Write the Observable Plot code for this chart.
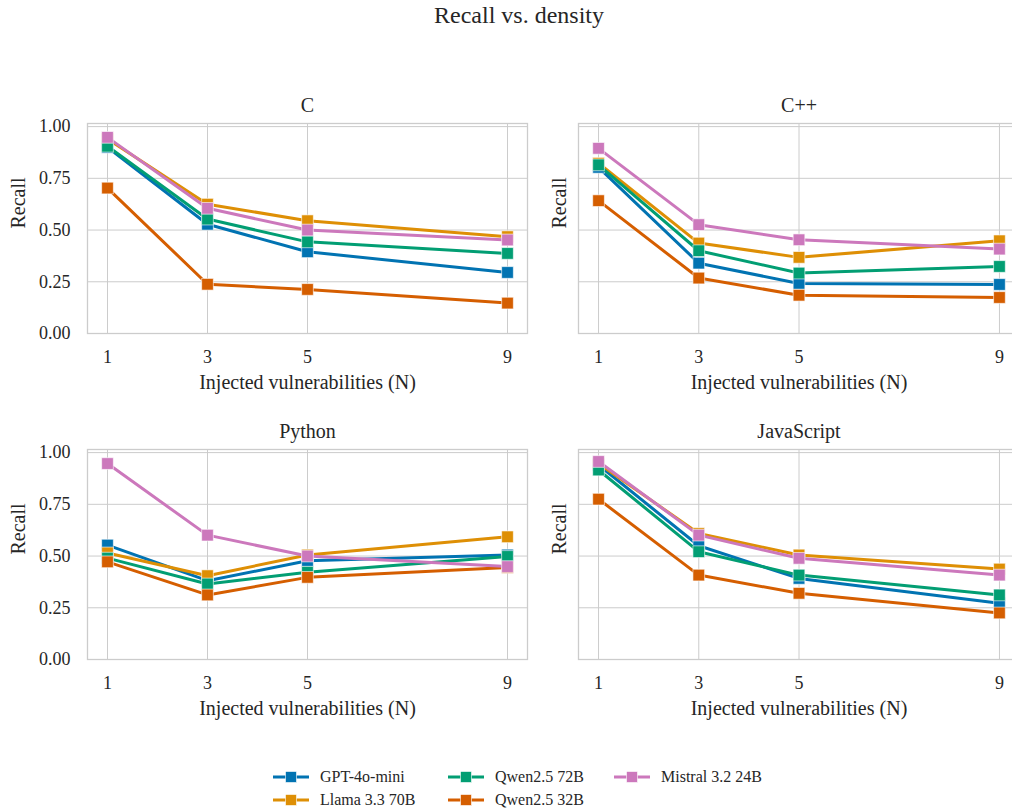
<!DOCTYPE html>
<html>
<head>
<meta charset="utf-8">
<script src="https://cdn.jsdelivr.net/npm/d3@7"></script>
<script src="https://cdn.jsdelivr.net/npm/@observablehq/plot@0.6"></script>
<style>
  html, body { margin: 0; padding: 0; background: #fff; overflow: hidden; }
  #root { position: relative; width: 1012px; height: 812px; overflow: hidden; font-family: "Liberation Serif", "Times New Roman", serif; color: #262626; }
  .title { position: absolute; left: 0; width: 1038px; top: 3px; text-align: center; font-size: 24px; line-height: 24px; font-family: "Liberation Serif", serif; }
  .leg { position: absolute; display: flex; align-items: center; font-size: 16px; line-height: 16px; white-space: nowrap; font-family: "Liberation Serif", serif; }
  .leg span { font-family: "Liberation Serif", serif; }
  svg text { font-family: "Liberation Serif", serif; }
</style>
</head>
<body>
<div id="root">
  <div class="title">Recall vs. density</div>
</div>
<script>
const Ns = [1, 3, 5, 9];
const models = ["GPT-4o-mini", "Llama 3.3 70B", "Qwen2.5 72B", "Qwen2.5 32B", "Mistral 3.2 24B"];
const colors = ["#0173b2", "#de8f05", "#029e73", "#d55e00", "#cc78bc"];
const languages = ["C", "C++", "Python", "JavaScript"];
const yTicks = [0, 0.25, 0.5, 0.75, 1.0];

// recall per model (rows follow `models` order), columns follow Ns
const recallC = [
  [0.900, 0.528, 0.395, 0.295],
  [0.940, 0.625, 0.545, 0.468],
  [0.905, 0.553, 0.443, 0.387],
  [0.703, 0.238, 0.213, 0.147],
  [0.948, 0.605, 0.500, 0.452]
];
const recallCpp = [
  [0.803, 0.340, 0.242, 0.237],
  [0.823, 0.437, 0.368, 0.448],
  [0.815, 0.400, 0.292, 0.324],
  [0.642, 0.268, 0.185, 0.174],
  [0.895, 0.526, 0.453, 0.408]
];
const recallPython = [
  [0.553, 0.381, 0.477, 0.505],
  [0.515, 0.405, 0.505, 0.593],
  [0.490, 0.365, 0.422, 0.498],
  [0.472, 0.312, 0.397, 0.445],
  [0.947, 0.601, 0.500, 0.449]
];
const recallJS = [
  [0.940, 0.550, 0.392, 0.272],
  [0.947, 0.609, 0.505, 0.437],
  [0.916, 0.521, 0.408, 0.312],
  [0.775, 0.408, 0.320, 0.225],
  [0.957, 0.601, 0.489, 0.408]
];
const recallByLang = [recallC, recallCpp, recallPython, recallJS];

const root = document.getElementById("root");
const grid = "#cccccc";
const serif = '"Liberation Serif", "Times New Roman", serif';

function panel(idx, opts) {
  const lang = languages[idx];
  const table = recallByLang[idx];
  const rows = [];
  models.forEach((m, i) => Ns.forEach((n, j) => rows.push({model: m, n, recall: table[i][j]})));
  const marks = [
    Plot.gridX(Ns, {stroke: grid, strokeOpacity: 1, strokeWidth: 1}),
    Plot.gridY(yTicks, {stroke: grid, strokeOpacity: 1, strokeWidth: 1}),
    Plot.frame({stroke: grid, strokeWidth: 1.3}),
    Plot.axisX({ticks: Ns, tickSize: 0, tickPadding: 17, label: null, fontSize: 18, fontFamily: serif, fill: "#262626"}),
    Plot.axisY({ticks: yTicks, tickSize: 0, tickPadding: 17, label: null, fontSize: 18, fontFamily: serif, fill: "#262626",
      tickFormat: opts.showY ? d3.format(".2f") : () => ""}),
    Plot.text([lang], {frameAnchor: "top", dy: -11.5, lineAnchor: "bottom", fontSize: 20, fontFamily: serif, fill: "#262626"}),
    Plot.text(["Injected vulnerabilities (N)"], {frameAnchor: "bottom", dy: 55, lineAnchor: "bottom", fontSize: 20, fontFamily: serif, fill: "#262626"}),
    Plot.text(["Recall"], {frameAnchor: "left", dx: opts.labelDx, rotate: -90, lineAnchor: "middle", fontSize: 20, fontFamily: serif, fill: "#262626"})
  ];
  models.forEach((m) => {
    const d = rows.filter(r => r.model === m);
    marks.push(Plot.line(d, {x: "n", y: "recall", stroke: "model", strokeWidth: 3}));
    marks.push(Plot.dot(d, {x: "n", y: "recall", fill: "model", symbol: "square", r: 6.6, stroke: "white", strokeWidth: 0.6}));
  });
  const svg = Plot.plot({
    width: opts.width, height: 320,
    marginLeft: opts.ml, marginRight: opts.mr, marginTop: 40, marginBottom: 70,
    style: {fontFamily: serif, fontSize: "18px", color: "#262626", background: "transparent", overflow: "visible"},
    x: {domain: [0.6, 9.4]},
    y: {domain: [0, 1.015]},
    color: {domain: models, range: colors},
    marks
  });
  svg.style.position = "absolute";
  svg.style.left = opts.left + "px";
  svg.style.top = opts.top + "px";
  root.appendChild(svg);
}

// left panels: frame 87..527 ; right panels: frame 578..1019
panel(0, {left: 0, top: 83, width: 537, ml: 87, mr: 10, showY: true, labelDx: -69});
panel(1, {left: 538, top: 83, width: 481, ml: 40, mr: 0, showY: false, labelDx: -19});
panel(2, {left: 0, top: 409, width: 537, ml: 87, mr: 10, showY: true, labelDx: -69});
panel(3, {left: 538, top: 409, width: 481, ml: 40, mr: 0, showY: false, labelDx: -19});

// legend
const legPos = [
  {x: 273, y: 777}, {x: 273, y: 800},
  {x: 448, y: 777}, {x: 448, y: 800},
  {x: 614, y: 777}
];
models.forEach((m, i) => {
  const p = legPos[i];
  const div = document.createElement("div");
  div.className = "leg";
  div.style.left = p.x + "px";
  div.style.top = (p.y - 8) + "px";
  div.style.height = "16px";
  div.innerHTML =
    `<svg width="36" height="16" style="margin-right:11px;overflow:visible">
       <line x1="0" x2="36" y1="8" y2="8" stroke="${colors[i]}" stroke-width="3"/>
       <rect x="12.5" y="2.5" width="11" height="11" fill="${colors[i]}" stroke="white" stroke-width="0.6"/>
     </svg><span>${m}</span>`;
  root.appendChild(div);
});
</script>
</body>
</html>
